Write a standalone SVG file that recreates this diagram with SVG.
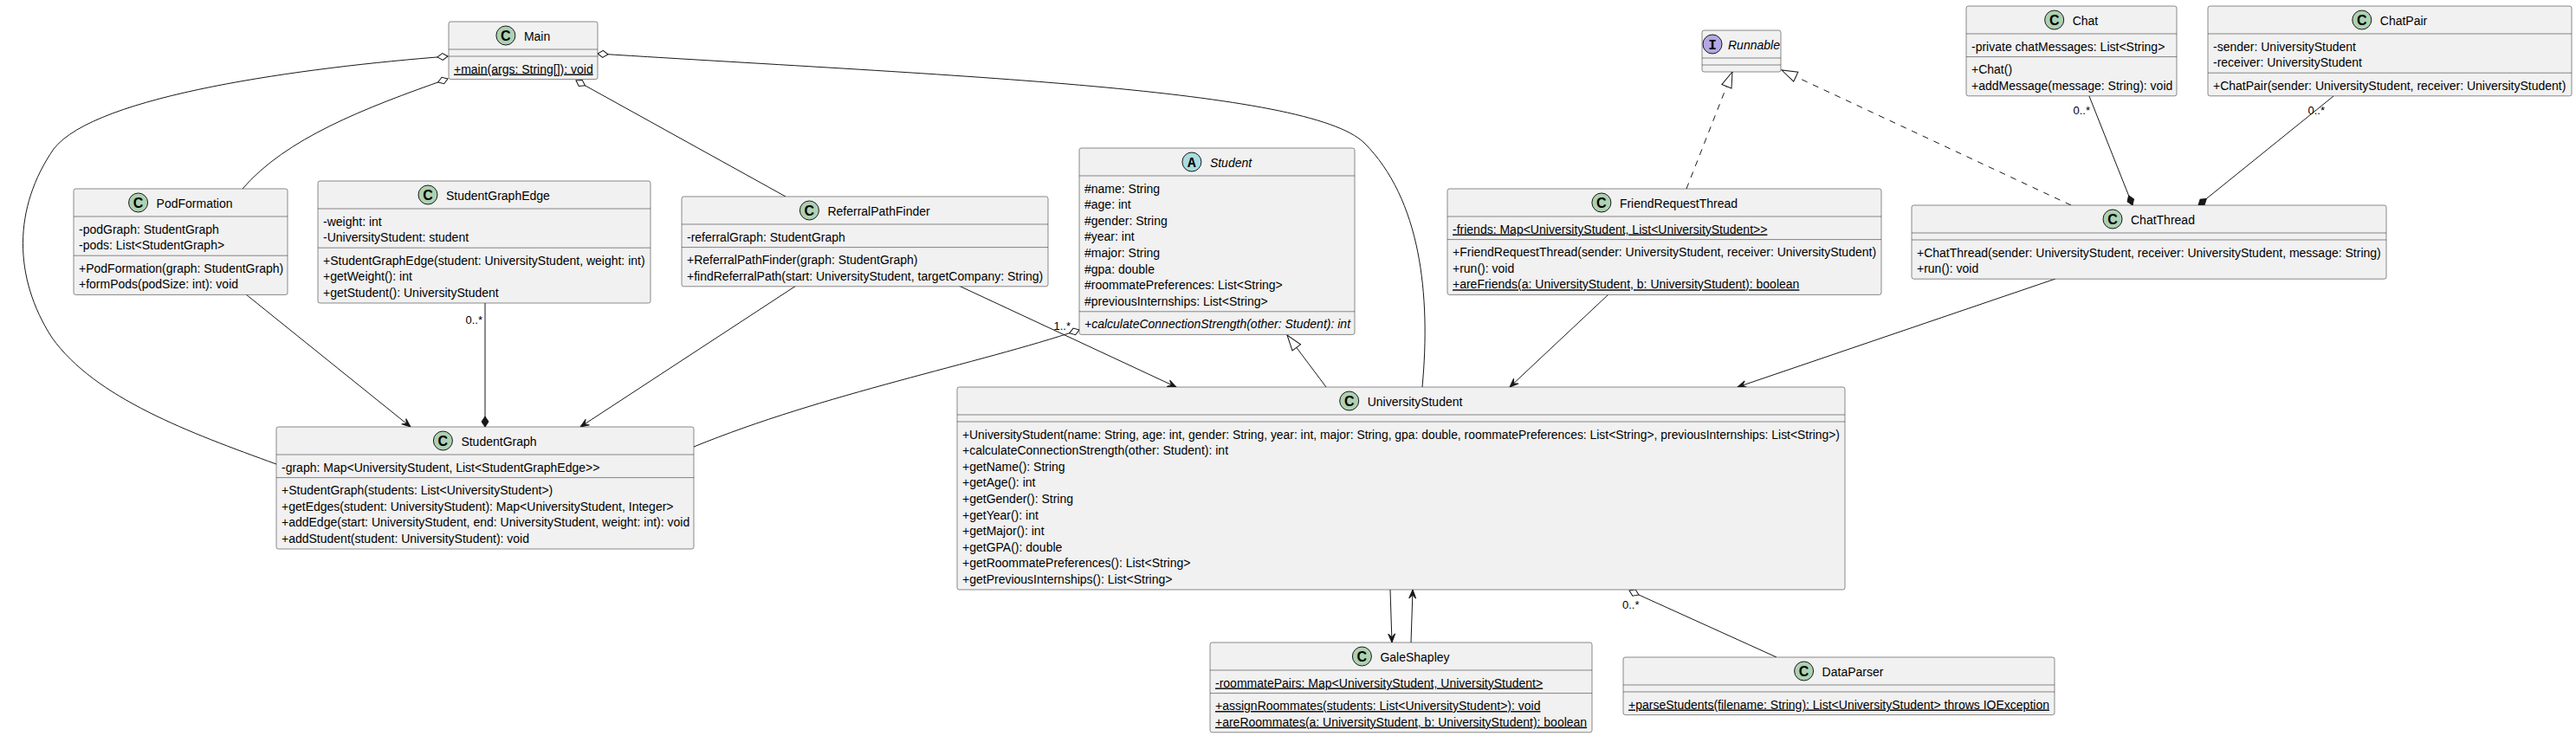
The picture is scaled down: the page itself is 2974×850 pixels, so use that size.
<svg xmlns="http://www.w3.org/2000/svg" width="2974" height="850" viewBox="0 0 2974 850">
<defs>
<style>
.bg{fill:#FFFFFF}
.box{fill:#F1F1F1;stroke:#181818;stroke-width:0.5}
.sep{stroke:#181818;stroke-width:0.5;fill:none}
.t{font-family:"Liberation Sans",Arial,sans-serif;font-size:14px;fill:#000000}
.u{text-decoration:underline}
.i{font-style:italic}
.lbl{font-family:"Liberation Sans",Arial,sans-serif;font-size:13px;fill:#000000}
.cir{stroke:#181818;stroke-width:1}
.cc{fill:#ADD1B2}
.ca{fill:#A9DCDF}
.ci{fill:#B4A7E5}
.cl{font-family:"Liberation Sans",Arial,sans-serif;font-size:16px;font-weight:bold;fill:#000000;text-anchor:middle}
.clm{font-family:"Liberation Mono","Courier New",monospace;font-size:16px;font-weight:bold;fill:#000000;text-anchor:middle}
.e{fill:none;stroke:#181818;stroke-width:1}
.d{stroke-dasharray:7,7}
.ar{marker-end:url(#arr)}
.ex{marker-end:url(#tri)}
.co{marker-end:url(#dia)}
.ag{marker-end:url(#odia)}
</style>
<marker id="arr" viewBox="-12 -6 13 12" refX="0" refY="0" markerWidth="13" markerHeight="12" orient="auto" markerUnits="userSpaceOnUse"><path d="M0,0 L-10,-4 L-6,0 L-10,4 Z" fill="#181818" stroke="#181818" stroke-width="1" stroke-dasharray="none"/></marker>
<marker id="tri" viewBox="-20 -8 21 16" refX="0" refY="0" markerWidth="21" markerHeight="16" orient="auto" markerUnits="userSpaceOnUse"><path d="M0,0 L-18,-6 L-18,6 Z" fill="#FFFFFF" stroke="#181818" stroke-width="1" stroke-dasharray="none"/></marker>
<marker id="dia" viewBox="-14 -6 15 12" refX="0" refY="0" markerWidth="15" markerHeight="12" orient="auto" markerUnits="userSpaceOnUse"><path d="M0,0 L-6,-4 L-12,0 L-6,4 Z" fill="#181818" stroke="#181818" stroke-width="1" stroke-dasharray="none"/></marker>
<marker id="odia" viewBox="-14 -6 15 12" refX="0" refY="0" markerWidth="15" markerHeight="12" orient="auto" markerUnits="userSpaceOnUse"><path d="M0,0 L-6,-4 L-12,0 L-6,4 Z" fill="#FFFFFF" stroke="#181818" stroke-width="1" stroke-dasharray="none"/></marker>
</defs>
<rect class="bg" x="0" y="0" width="2974" height="850"/>

<g id="connectors">
<path class="e ag" d="M280,218 C330,160 420,125 517,91"/>
<path class="e ag" d="M319,536 C220,500 110,460 60,390 C15,320 15,240 62,172 C110,110 350,78 517,65"/>
<path class="e ag" d="M907,227 L665,93"/>
<path class="e ag" d="M1642,447 C1652,340 1640,230 1575,165 C1510,102 1100,88 690,62"/>
<path class="e ar" d="M284,340 L474,493"/>
<path class="e co" d="M560,350 L560,493"/>
<text class="lbl" x="557" y="374" text-anchor="end">0..*</text>
<path class="e ar" d="M919,330 L670,493"/>
<path class="e ar" d="M1107,330 L1358,447"/>
<path class="e ag" d="M801,516 C950,455 1130,420 1246,381"/>
<text class="lbl" x="1236" y="381" text-anchor="end">1..*</text>
<path class="e ex" d="M1531,447 L1486,387"/>
<path class="e d ex" d="M1947,218 L2000,83"/>
<path class="e d ex" d="M2391,237 L2057,81"/>
<path class="e ar" d="M1857,340 L1743,447"/>
<path class="e ar" d="M2373,322 L2006,447"/>
<path class="e co" d="M2412,111 L2462,237"/>
<text class="lbl" x="2413" y="132" text-anchor="end">0..*</text>
<path class="e co" d="M2694,111 L2538,237"/>
<text class="lbl" x="2684" y="132" text-anchor="end">0..*</text>
<path class="e ar" d="M1605,681 L1607,742"/>
<path class="e ar" d="M1629,742 L1631,681"/>
<path class="e ag" d="M2051,759 L1881,682"/>
<text class="lbl" x="1873" y="703">0..*</text>
</g>

<g id="Main">
<rect class="box" x="518" y="25" width="172" height="66.6" rx="2.5"/>
<line class="sep" x1="518" y1="57" x2="690" y2="57"/>
<line class="sep" x1="518" y1="65" x2="690" y2="65"/>
<circle class="cir cc" cx="583.9" cy="41" r="11"/>
<text class="cl" x="583.9" y="46.7">C</text>
<text class="t" x="604.9" y="46.5">Main</text>
<text class="t u" x="524" y="84.5">+main(args: String[]): void</text>
</g>

<g id="PodFormation">
<rect class="box" x="85" y="218" width="247" height="122.4" rx="2.5"/>
<line class="sep" x1="85" y1="250" x2="332" y2="250"/>
<line class="sep" x1="85" y1="295.2" x2="332" y2="295.2"/>
<circle class="cir cc" cx="159.6" cy="234" r="11"/>
<text class="cl" x="159.6" y="239.7">C</text>
<text class="t" x="180.6" y="239.5">PodFormation</text>
<text class="t" x="91" y="269.5">-podGraph: StudentGraph</text>
<text class="t" x="91" y="288.1">-pods: List&lt;StudentGraph&gt;</text>
<text class="t" x="91" y="314.7">+PodFormation(graph: StudentGraph)</text>
<text class="t" x="91" y="333.3">+formPods(podSize: int): void</text>
</g>

<g id="StudentGraphEdge">
<rect class="box" x="367" y="209" width="384" height="141" rx="2.5"/>
<line class="sep" x1="367" y1="241" x2="751" y2="241"/>
<line class="sep" x1="367" y1="286.2" x2="751" y2="286.2"/>
<circle class="cir cc" cx="494" cy="225" r="11"/>
<text class="cl" x="494" y="230.7">C</text>
<text class="t" x="515" y="230.5">StudentGraphEdge</text>
<text class="t" x="373" y="260.5">-weight: int</text>
<text class="t" x="373" y="279.1">-UniversityStudent: student</text>
<text class="t" x="373" y="305.7">+StudentGraphEdge(student: UniversityStudent, weight: int)</text>
<text class="t" x="373" y="324.3">+getWeight(): int</text>
<text class="t" x="373" y="342.9">+getStudent(): UniversityStudent</text>
</g>

<g id="ReferralPathFinder">
<rect class="box" x="787" y="227" width="423" height="103.8" rx="2.5"/>
<line class="sep" x1="787" y1="259" x2="1210" y2="259"/>
<line class="sep" x1="787" y1="285.6" x2="1210" y2="285.6"/>
<circle class="cir cc" cx="934.4" cy="243" r="11"/>
<text class="cl" x="934.4" y="248.7">C</text>
<text class="t" x="955.4" y="248.5">ReferralPathFinder</text>
<text class="t" x="793" y="278.5">-referralGraph: StudentGraph</text>
<text class="t" x="793" y="305.1">+ReferralPathFinder(graph: StudentGraph)</text>
<text class="t" x="793" y="323.7">+findReferralPath(start: UniversityStudent, targetCompany: String)</text>
</g>

<g id="Student">
<rect class="box" x="1246" y="171" width="318" height="215.4" rx="2.5"/>
<line class="sep" x1="1246" y1="203" x2="1564" y2="203"/>
<line class="sep" x1="1246" y1="359.8" x2="1564" y2="359.8"/>
<circle class="cir ca" cx="1375.9" cy="187" r="11"/>
<text class="clm" x="1375.9" y="192.7">A</text>
<text class="t i" x="1396.9" y="192.5">Student</text>
<text class="t" x="1252" y="222.5">#name: String</text>
<text class="t" x="1252" y="241.1">#age: int</text>
<text class="t" x="1252" y="259.7">#gender: String</text>
<text class="t" x="1252" y="278.3">#year: int</text>
<text class="t" x="1252" y="296.9">#major: String</text>
<text class="t" x="1252" y="315.5">#gpa: double</text>
<text class="t" x="1252" y="334.1">#roommatePreferences: List&lt;String&gt;</text>
<text class="t" x="1252" y="352.7">#previousInternships: List&lt;String&gt;</text>
<text class="t i" x="1252" y="379.3">+calculateConnectionStrength(other: Student): int</text>
</g>

<g id="UniversityStudent">
<rect class="box" x="1105" y="447" width="1025" height="234" rx="2.5"/>
<line class="sep" x1="1105" y1="479" x2="2130" y2="479"/>
<line class="sep" x1="1105" y1="487" x2="2130" y2="487"/>
<circle class="cir cc" cx="1557.7" cy="463" r="11"/>
<text class="cl" x="1557.7" y="468.7">C</text>
<text class="t" x="1578.7" y="468.5">UniversityStudent</text>
<text class="t" x="1111" y="506.5" textLength="1013" lengthAdjust="spacingAndGlyphs">+UniversityStudent(name: String, age: int, gender: String, year: int, major: String, gpa: double, roommatePreferences: List&lt;String&gt;, previousInternships: List&lt;String&gt;)</text>
<text class="t" x="1111" y="525.1">+calculateConnectionStrength(other: Student): int</text>
<text class="t" x="1111" y="543.7">+getName(): String</text>
<text class="t" x="1111" y="562.3">+getAge(): int</text>
<text class="t" x="1111" y="580.9">+getGender(): String</text>
<text class="t" x="1111" y="599.5">+getYear(): int</text>
<text class="t" x="1111" y="618.1">+getMajor(): int</text>
<text class="t" x="1111" y="636.7">+getGPA(): double</text>
<text class="t" x="1111" y="655.3">+getRoommatePreferences(): List&lt;String&gt;</text>
<text class="t" x="1111" y="673.9">+getPreviousInternships(): List&lt;String&gt;</text>
</g>

<g id="StudentGraph">
<rect class="box" x="319" y="493" width="482" height="141" rx="2.5"/>
<line class="sep" x1="319" y1="525" x2="801" y2="525"/>
<line class="sep" x1="319" y1="551.6" x2="801" y2="551.6"/>
<circle class="cir cc" cx="511.4" cy="509" r="11"/>
<text class="cl" x="511.4" y="514.7">C</text>
<text class="t" x="532.4" y="514.5">StudentGraph</text>
<text class="t" x="325" y="544.5">-graph: Map&lt;UniversityStudent, List&lt;StudentGraphEdge&gt;&gt;</text>
<text class="t" x="325" y="571.1">+StudentGraph(students: List&lt;UniversityStudent&gt;)</text>
<text class="t" x="325" y="589.7">+getEdges(student: UniversityStudent): Map&lt;UniversityStudent, Integer&gt;</text>
<text class="t" x="325" y="608.3">+addEdge(start: UniversityStudent, end: UniversityStudent, weight: int): void</text>
<text class="t" x="325" y="626.9">+addStudent(student: UniversityStudent): void</text>
</g>

<g id="Runnable">
<rect class="box" x="1965" y="35" width="91" height="48" rx="2.5"/>
<line class="sep" x1="1965" y1="67" x2="2056" y2="67"/>
<line class="sep" x1="1965" y1="75" x2="2056" y2="75"/>
<circle class="cir ci" cx="1977" cy="51" r="11"/>
<text class="clm" x="1977" y="56.7">I</text>
<text class="t i" x="1995" y="56.5">Runnable</text>
</g>

<g id="FriendRequestThread">
<rect class="box" x="1671" y="218" width="501" height="122.4" rx="2.5"/>
<line class="sep" x1="1671" y1="250" x2="2172" y2="250"/>
<line class="sep" x1="1671" y1="276.6" x2="2172" y2="276.6"/>
<circle class="cir cc" cx="1848.9" cy="234" r="11"/>
<text class="cl" x="1848.9" y="239.7">C</text>
<text class="t" x="1869.9" y="239.5">FriendRequestThread</text>
<text class="t u" x="1677" y="269.5">-friends: Map&lt;UniversityStudent, List&lt;UniversityStudent&gt;&gt;</text>
<text class="t" x="1677" y="296.1">+FriendRequestThread(sender: UniversityStudent, receiver: UniversityStudent)</text>
<text class="t" x="1677" y="314.7">+run(): void</text>
<text class="t u" x="1677" y="333.3">+areFriends(a: UniversityStudent, b: UniversityStudent): boolean</text>
</g>

<g id="Chat">
<rect class="box" x="2270" y="7" width="243" height="103.8" rx="2.5"/>
<line class="sep" x1="2270" y1="39" x2="2513" y2="39"/>
<line class="sep" x1="2270" y1="65.6" x2="2513" y2="65.6"/>
<circle class="cir cc" cx="2371.7" cy="23" r="11"/>
<text class="cl" x="2371.7" y="28.7">C</text>
<text class="t" x="2392.7" y="28.5">Chat</text>
<text class="t" x="2276" y="58.5">-private chatMessages: List&lt;String&gt;</text>
<text class="t" x="2276" y="85.1">+Chat()</text>
<text class="t" x="2276" y="103.7">+addMessage(message: String): void</text>
</g>

<g id="ChatPair">
<rect class="box" x="2549" y="7" width="420" height="103.8" rx="2.5"/>
<line class="sep" x1="2549" y1="39" x2="2969" y2="39"/>
<line class="sep" x1="2549" y1="84.2" x2="2969" y2="84.2"/>
<circle class="cir cc" cx="2726.8" cy="23" r="11"/>
<text class="cl" x="2726.8" y="28.7">C</text>
<text class="t" x="2747.8" y="28.5">ChatPair</text>
<text class="t" x="2555" y="58.5">-sender: UniversityStudent</text>
<text class="t" x="2555" y="77.1">-receiver: UniversityStudent</text>
<text class="t" x="2555" y="103.7">+ChatPair(sender: UniversityStudent, receiver: UniversityStudent)</text>
</g>

<g id="ChatThread">
<rect class="box" x="2207" y="237" width="548" height="85.2" rx="2.5"/>
<line class="sep" x1="2207" y1="269" x2="2755" y2="269"/>
<line class="sep" x1="2207" y1="277" x2="2755" y2="277"/>
<circle class="cir cc" cx="2439" cy="253" r="11"/>
<text class="cl" x="2439" y="258.7">C</text>
<text class="t" x="2460" y="258.5">ChatThread</text>
<text class="t" x="2213" y="296.5">+ChatThread(sender: UniversityStudent, receiver: UniversityStudent, message: String)</text>
<text class="t" x="2213" y="315.1">+run(): void</text>
</g>

<g id="GaleShapley">
<rect class="box" x="1397" y="742" width="441" height="103.8" rx="2.5"/>
<line class="sep" x1="1397" y1="774" x2="1838" y2="774"/>
<line class="sep" x1="1397" y1="800.6" x2="1838" y2="800.6"/>
<circle class="cir cc" cx="1572.4" cy="758" r="11"/>
<text class="cl" x="1572.4" y="763.7">C</text>
<text class="t" x="1593.4" y="763.5">GaleShapley</text>
<text class="t u" x="1403" y="793.5">-roommatePairs: Map&lt;UniversityStudent, UniversityStudent&gt;</text>
<text class="t u" x="1403" y="820.1">+assignRoommates(students: List&lt;UniversityStudent&gt;): void</text>
<text class="t u" x="1403" y="838.7">+areRoommates(a: UniversityStudent, b: UniversityStudent): boolean</text>
</g>

<g id="DataParser">
<rect class="box" x="1874" y="759" width="498" height="66.6" rx="2.5"/>
<line class="sep" x1="1874" y1="791" x2="2372" y2="791"/>
<line class="sep" x1="1874" y1="799" x2="2372" y2="799"/>
<circle class="cir cc" cx="2082.6" cy="775" r="11"/>
<text class="cl" x="2082.6" y="780.7">C</text>
<text class="t" x="2103.6" y="780.5">DataParser</text>
<text class="t u" x="1880" y="818.5">+parseStudents(filename: String): List&lt;UniversityStudent&gt; throws IOException</text>
</g>
</svg>
